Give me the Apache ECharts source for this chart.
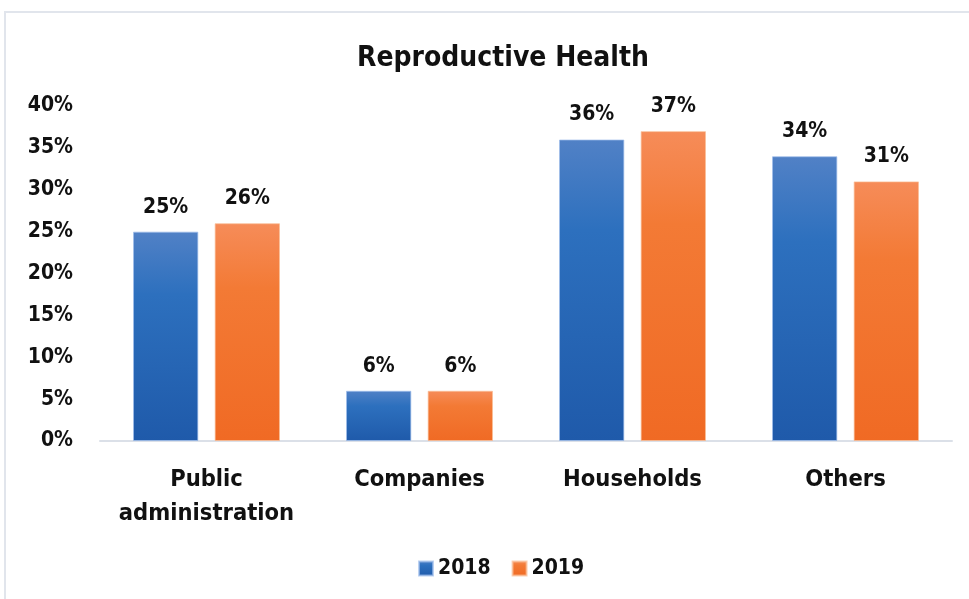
<!DOCTYPE html>
<html>
<head>
<meta charset="utf-8">
<script src="https://cdn.jsdelivr.net/npm/echarts@6/dist/echarts.min.js"></script>
<style>
  html, body { margin: 0; padding: 0; background: #ffffff; }
  #chart { width: 969px; height: 599px; }
</style>
</head>
<body>
<div id="chart"></div>
<script>
// Spending shares on reproductive health by financing source
const categories = ['Public\nadministration', 'Companies', 'Households', 'Others'];
const seriesNames = ['2018', '2019'];
const values2018 = [25, 6, 36, 34];
const values2019 = [26, 6, 37, 31];
const yTicks = [0, 5, 10, 15, 20, 25, 30, 35, 40];

const FONT = '"DejaVu Sans Condensed", "Liberation Sans Narrow", "Roboto", sans-serif';

function vgrad(top, mid, bottom) {
  return new echarts.graphic.LinearGradient(0, 0, 0, 1, [
    { offset: 0, color: top },
    { offset: 0.3, color: mid },
    { offset: 1, color: bottom }
  ]);
}

const chart = echarts.init(document.getElementById('chart'), null, { renderer: 'canvas' });

const labelStyle = {
  show: true,
  position: 'top',
  distance: 14,
  formatter: p => p.value + '%',
  color: '#111',
  fontFamily: FONT,
  fontWeight: 'bold',
  fontSize: 21
};

chart.setOption({
  backgroundColor: '#ffffff',
  animation: false,
  graphic: [{
    type: 'rect',
    shape: { x: 5, y: 12, width: 1000, height: 700 },
    style: { fill: 'none', stroke: '#e1e5ec', lineWidth: 2 },
    silent: true,
    z: -1
  }],
  title: {
    text: 'Reproductive Health',
    left: 498,
    top: 40,
    textAlign: 'center',
    textStyle: { fontFamily: FONT, fontWeight: 'bold', fontSize: 28, color: '#111' }
  },
  legend: {
    data: seriesNames,
    bottom: 15,
    left: 413,
    itemWidth: 14,
    itemHeight: 14,
    itemGap: 21,
    icon: 'rect',
    textStyle: { fontFamily: FONT, fontWeight: 'bold', fontSize: 21, color: '#111' }
  },
  grid: { left: 100, right: 17, top: 106, bottom: 158, containLabel: false },
  xAxis: {
    type: 'category',
    data: categories,
    axisLine: { lineStyle: { color: '#dbe0e8', width: 2 } },
    axisTick: { show: false },
    axisLabel: {
      interval: 0,
      fontFamily: FONT, fontWeight: 'bold', fontSize: 23.5, color: '#111',
      margin: 22, lineHeight: 34
    }
  },
  yAxis: {
    type: 'value',
    min: 0,
    max: 40,
    interval: 5,
    axisLine: { show: false },
    axisTick: { show: false },
    splitLine: { show: false },
    axisLabel: {
      formatter: v => (yTicks.includes(v) ? v + '%' : ''),
      fontFamily: FONT, fontWeight: 'bold', fontSize: 21, color: '#111',
      margin: 27
    }
  },
  series: [
    {
      name: seriesNames[0],
      type: 'bar',
      data: values2018,
      barGap: '25%',
      barCategoryGap: '31%',
      itemStyle: {
        color: vgrad('#5181c6', '#2d70be', '#1f5aaa'),
        borderColor: 'rgba(160,190,235,0.7)',
        borderWidth: 1
      },
      label: labelStyle
    },
    {
      name: seriesNames[1],
      type: 'bar',
      data: values2019,
      itemStyle: {
        color: vgrad('#f68c59', '#f37a35', '#f06a24'),
        borderColor: 'rgba(250,190,150,0.7)',
        borderWidth: 1
      },
      label: labelStyle
    }
  ]
});
</script>
</body>
</html>
